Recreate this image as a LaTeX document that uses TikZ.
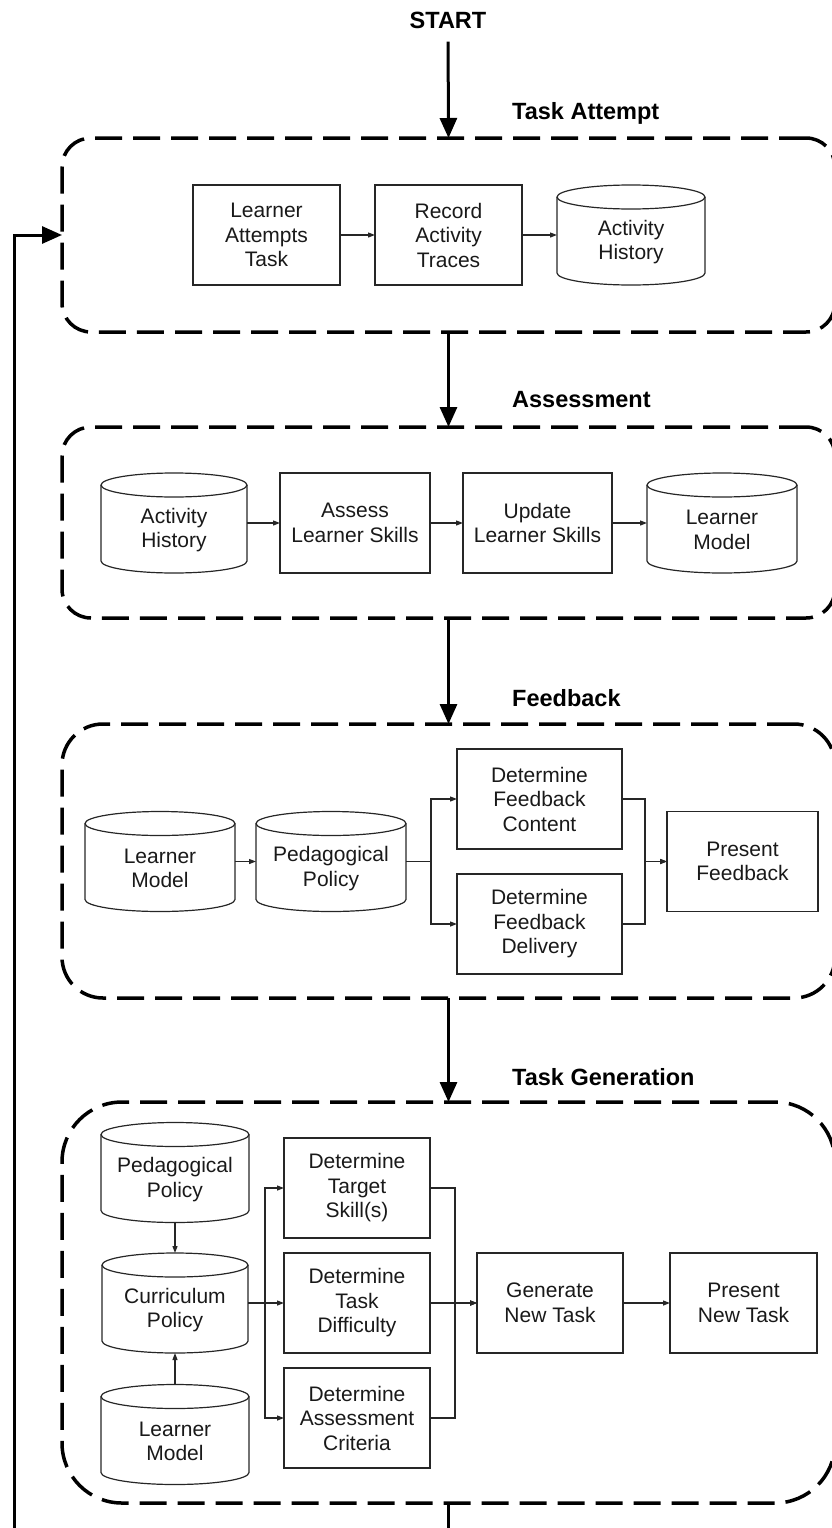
\documentclass[tikz,border=0pt]{standalone}
\usepackage{fontspec}
\setmainfont{Liberation Sans}
\usetikzlibrary{arrows.meta}
\newcommand\cylnode[5]{%
  \node[cylbody, minimum width=#4pt] (#1) at (#2,#3) {};
  \draw[cylline] ([yshift=-12pt]#1.north west) -- ([yshift=12pt]#1.south west)
     arc[start angle=180, end angle=360, x radius=#4*0.5pt, y radius=12pt]
     -- ([yshift=-12pt]#1.north east);
  \draw[cylline] ([yshift=-12pt]#1.north) ellipse[x radius=#4*0.5pt, y radius=12pt];
  \node[txt] (#1t) at ([yshift=-7pt]#1.center) {#5};
}
\begin{document}
\begin{tikzpicture}[x=1pt,y=-1pt,
  txt/.style={inner sep=0pt, align=center, font=\fontsize{21pt}{24.5pt}\selectfont, text=black!90},
  box/.style={txt, draw=black!85, line width=1.2pt, minimum height=100pt, outer sep=0pt},
  cylbody/.style={draw=none, minimum height=100pt, inner sep=0pt, outer sep=0pt},
  cylline/.style={draw=black!85, line width=1.2pt},
  title/.style={inner sep=0pt, font=\bfseries\fontsize{23.5pt}{28pt}\selectfont, text=black},
  grp/.style={draw=black, line width=3.5pt, dash pattern=on 27pt off 11pt, inner sep=0pt, outer sep=0pt},
  bigarrow/.style={draw=black, line width=3pt, line join=miter, -{Triangle[length=20pt,width=17pt]}},
  thinarrow/.style={draw=black!85, line width=1.2pt, -{Triangle[length=7pt,width=5pt]}}
]
\useasboundingbox (0,0) rectangle (832,1528);
\clip (0,0) rectangle (832,1528);

% titles
\node[title] (start) at (448,20) {START};
\node[title, anchor=west] (l1) at (512,113) {Task Attempt};
\node[title, anchor=west] (l2) at (512,400) {Assessment};
\node[title, anchor=west] (l3) at (512,698) {Feedback};
\node[title, anchor=west] (l4) at (512,1077) {Task Generation};

% groups
\node[grp, rounded corners=29pt, minimum width=773pt, minimum height=194pt] (g1) at (448.5,235) {};
\node[grp, rounded corners=29pt, minimum width=773pt, minimum height=191pt] (g2) at (448.5,522.5) {};
\node[grp, rounded corners=41pt, minimum width=773pt, minimum height=274pt] (g3) at (448.5,861) {};
\node[grp, rounded corners=60pt, minimum width=773pt, minimum height=401pt] (g4) at (448.5,1302.5) {};

% Task Attempt
\node[box, minimum width=147pt] (lat) at (266.5,235) {Learner\\Attempts\\Task};
\node[box, minimum width=147pt] (rat) at (448.5,235) {Record\\Activity\\Traces};
\cylnode{ah1}{631}{235}{148}{Activity\\History}
\draw[thinarrow] (lat) -- (rat);
\draw[thinarrow] (rat) -- (ah1);

% Assessment
\cylnode{ah2}{174}{523}{146}{Activity\\History}
\node[box, minimum width=150pt] (als) at (355,523) {Assess\\Learner Skills};
\node[box, minimum width=149pt] (uls) at (537.5,523) {Update\\Learner Skills};
\cylnode{lm2}{722}{523}{150}{Learner\\Model}
\draw[thinarrow] (ah2) -- (als);
\draw[thinarrow] (als) -- (uls);
\draw[thinarrow] (uls) -- (lm2);

% Feedback
\cylnode{lm3}{160}{861.5}{150}{Learner\\Model}
\cylnode{pp3}{331}{861.5}{150}{Pedagogical\\Policy}
\node[box, minimum width=165pt] (dfc) at (539.5,799) {Determine\\Feedback\\Content};
\node[box, minimum width=165pt] (dfd) at (539.5,924) {Determine\\Feedback\\Delivery};
\node[box, minimum width=151pt] (pf) at (742.5,861.5) {Present\\Feedback};
\draw[thinarrow] (lm3) -- (pp3);
\draw[thinarrow] (pp3.east) -- ++(25,0) |- (dfc.west);
\draw[thinarrow] (pp3.east) -- ++(25,0) |- (dfd.west);
\draw[thinarrow] (dfc.east) -- ++(23,0) |- (pf.west);
\draw[thinarrow] (dfd.east) -- ++(23,0) |- (pf.west);

% Task Generation
\cylnode{tpp}{175}{1172.5}{148}{Pedagogical\\Policy}
\cylnode{tcp}{175}{1303}{146}{Curriculum\\Policy}
\cylnode{tlm}{175}{1434.5}{148}{Learner\\Model}
\node[box, minimum width=146pt] (dts) at (357,1188) {Determine\\Target\\Skill(s)};
\node[box, minimum width=146pt] (dtd) at (357,1303) {Determine\\Task\\Difficulty};
\node[box, minimum width=146pt] (dac) at (357,1418) {Determine\\Assessment\\Criteria};
\node[box, minimum width=146pt] (gnt) at (550,1303) {Generate\\New Task};
\node[box, minimum width=147pt] (pnt) at (743.5,1303) {Present\\New Task};
\draw[thinarrow] (tpp.south) -- (tcp.north);
\draw[thinarrow] (tlm.north) -- (tcp.south);
\draw[thinarrow] (tcp.east) -- (dtd.west);
\draw[thinarrow] (tcp.east) -- ++(17,0) |- (dts.west);
\draw[thinarrow] (tcp.east) -- ++(17,0) |- (dac.west);
\draw[thinarrow] (dts.east) -- ++(25,0) |- (gnt.west);
\draw[thinarrow] (dac.east) -- ++(25,0) |- (gnt.west);
\draw[thinarrow] (dtd.east) -- (gnt.west);
\draw[thinarrow] (gnt) -- (pnt);

% main flow
\draw[bigarrow, shorten <=13pt] (start.south) -- (g1.north);
\draw[bigarrow] (g1.south) -- (g2.north);
\draw[bigarrow] (g2.south) -- (g3.north);
\draw[bigarrow] (g3.south) -- (g4.north);
\draw[bigarrow] (g4.south) -- ++(0,60) -| ([xshift=-48pt]g1.west) -- (g1.west);
\end{tikzpicture}
\end{document}
